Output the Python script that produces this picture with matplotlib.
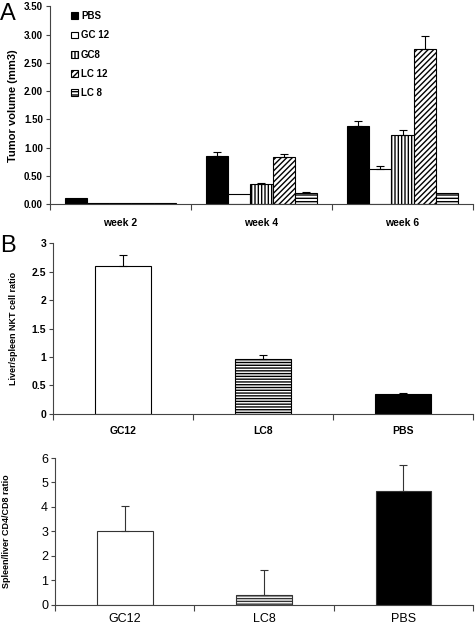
import matplotlib.pyplot as plt
import numpy as np

plt.rcParams['font.family'] = ['Liberation Sans', 'DejaVu Sans']
plt.rcParams['hatch.linewidth'] = 1.0

# Painel A: volume tumoral
weeks = ['week 2', 'week 4', 'week 6']
groups = ['PBS', 'GC 12', 'GC8', 'LC 12', 'LC 8']
tumor = {
    'PBS':   [0.10, 0.86, 1.38],
    'GC 12': [0.015, 0.18, 0.62],
    'GC8':   [0.015, 0.35, 1.22],
    'LC 12': [0.015, 0.83, 2.74],
    'LC 8':  [0.015, 0.19, 0.19],
}
tumor_err = {
    'PBS':   [0.0, 0.06, 0.09],
    'GC 12': [0.0, 0.0, 0.06],
    'GC8':   [0.0, 0.03, 0.10],
    'LC 12': [0.0, 0.05, 0.24],
    'LC 8':  [0.0, 0.02, 0.0],
}

# Painel B
b_groups = ['GC12', 'LC8', 'PBS']
nkt_ratio = [2.60, 0.97, 0.35]
nkt_err = [0.20, 0.06, 0.02]
cd4cd8_ratio = [3.0, 0.4, 4.65]
cd4cd8_err = [1.02, 1.02, 1.05]

styles_a = {
    'PBS':   dict(color='black', hatch=None),
    'GC 12': dict(color='white', hatch=None),
    'GC8':   dict(color='white', hatch='|||||'),
    'LC 12': dict(color='white', hatch='//////'),
    'LC 8':  dict(color='white', hatch='-----'),
}
styles_b = {
    'GC12': dict(color='white', hatch=None),
    'LC8':  dict(color='white', hatch='------'),
    'PBS':  dict(color='black', hatch=None),
}

fig = plt.figure(figsize=(4.75, 6.3), dpi=100)


def style_axes(ax, ncat):
    for s in ['top', 'right']:
        ax.spines[s].set_visible(False)
    for s in ['left', 'bottom']:
        ax.spines[s].set_color('#444444')
        ax.spines[s].set_linewidth(0.8)
    ax.set_xlim(-0.5, ncat - 0.5)
    ax.set_xticks(np.arange(-0.5, ncat, 1.0))
    ax.set_xticklabels([])
    ax.tick_params(axis='x', which='major', length=4, color='#444444')
    ax.tick_params(axis='y', length=3, color='#444444', pad=2)


# --- Painel A ---
axA = fig.add_axes([0.105, 0.676, 0.891, 0.314])
x = np.arange(len(weeks))
w = 0.157
for i, g in enumerate(groups):
    pos = x + (i - 2) * w
    err = np.array(tumor_err[g])
    axA.bar(pos, tumor[g], w, color=styles_a[g]['color'], hatch=styles_a[g]['hatch'],
            edgecolor='black', linewidth=0.8, label=g)
    mask = err > 0
    axA.errorbar(pos[mask], np.array(tumor[g])[mask],
                 yerr=[np.zeros(mask.sum()), err[mask]],
                 fmt='none', ecolor='black', elinewidth=0.8, capsize=3, capthick=0.8)
style_axes(axA, len(weeks))
axA.set_ylim(0, 3.5)
axA.set_yticks(np.arange(0, 3.51, 0.5))
axA.set_yticklabels([f'{v:.2f}' for v in np.arange(0, 3.51, 0.5)], fontsize=7, fontweight='bold')
axA.set_xticks(x, minor=True)
axA.set_xticklabels(weeks, minor=True, fontsize=7.5, fontweight='bold')
axA.tick_params(axis='x', which='minor', length=0, pad=10)
axA.set_ylabel('Tumor volume (mm3)', fontsize=8, fontweight='bold', labelpad=4)
axA.legend(loc='upper left', bbox_to_anchor=(0.03, 1.02), frameon=False,
           handlelength=0.7, handleheight=0.7, handletextpad=0.3,
           labelspacing=0.95, prop=dict(weight='bold', size=7))
fig.text(0.0, 0.995, 'A', fontsize=17, va='top', ha='left')

# --- Painel B (cima) ---
axB1 = fig.add_axes([0.112, 0.343, 0.884, 0.271])
xb = np.arange(len(b_groups))
for i, g in enumerate(b_groups):
    axB1.bar(xb[i], nkt_ratio[i], 0.4, color=styles_b[g]['color'], hatch=styles_b[g]['hatch'],
             edgecolor='black', linewidth=0.8)
axB1.errorbar(xb, nkt_ratio, yerr=[np.zeros(3), nkt_err], fmt='none', ecolor='black',
              elinewidth=0.8, capsize=3, capthick=0.8)
style_axes(axB1, len(b_groups))
axB1.set_ylim(0, 3)
axB1.set_yticks(np.arange(0, 3.01, 0.5))
axB1.set_yticklabels(['0', '0.5', '1', '1.5', '2', '2.5', '3'], fontsize=7.5, fontweight='bold')
axB1.set_xticks(xb, minor=True)
axB1.set_xticklabels(b_groups, minor=True, fontsize=7.5, fontweight='bold')
axB1.tick_params(axis='x', which='minor', length=0, pad=9)
axB1.set_ylabel('Liver/spleen NKT cell ratio', fontsize=6.5, fontweight='bold', labelpad=10)
fig.text(0.0, 0.627, 'B', fontsize=17, va='top', ha='left')

# --- Painel B (baixo) ---
axB2 = fig.add_axes([0.116, 0.040, 0.880, 0.233])
for i, g in enumerate(b_groups):
    axB2.bar(xb[i], cd4cd8_ratio[i], 0.4, color=styles_b[g]['color'], hatch=styles_b[g]['hatch'],
             edgecolor='#333333', linewidth=0.8)
axB2.errorbar(xb, cd4cd8_ratio, yerr=[np.zeros(3), cd4cd8_err], fmt='none', ecolor='#333333',
              elinewidth=0.8, capsize=3, capthick=0.8)
style_axes(axB2, len(b_groups))
axB2.set_ylim(0, 6)
axB2.set_yticks(np.arange(0, 7, 1))
axB2.set_yticklabels([str(v) for v in range(7)], fontsize=9)
axB2.set_xticks(xb, minor=True)
axB2.set_xticklabels(b_groups, minor=True, fontsize=9)
axB2.tick_params(axis='x', which='minor', length=0, pad=6)
axB2.set_ylabel('Spleen/liver CD4/CD8 ratio', fontsize=6.5, fontweight='bold', labelpad=22)

fig.savefig('out.png', dpi=100)
